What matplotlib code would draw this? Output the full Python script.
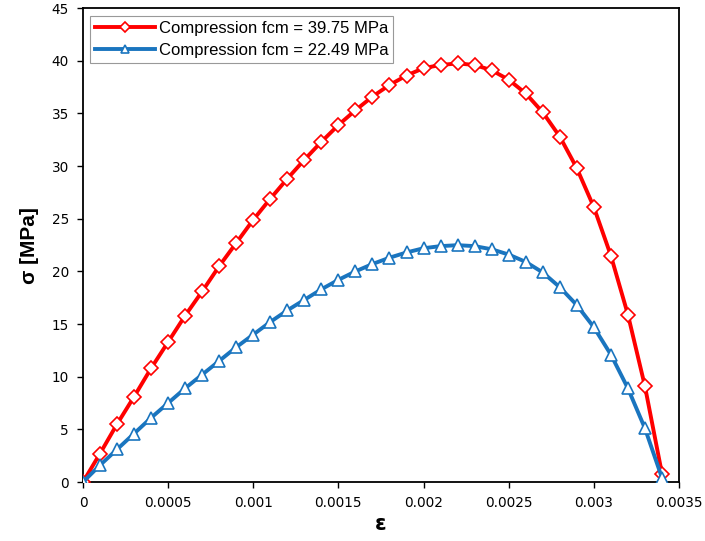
import matplotlib
matplotlib.use("Agg")
import matplotlib.pyplot as plt

strain = [i * 0.0001 for i in range(35)]

stress_high = [0.0, 2.7, 5.5, 8.1, 10.8, 13.3, 15.8, 18.1, 20.5, 22.7,
               24.9, 26.9, 28.8, 30.6, 32.3, 33.9, 35.3, 36.6, 37.7, 38.6,
               39.3, 39.6, 39.75, 39.6, 39.1, 38.2, 36.9, 35.1, 32.8, 29.8,
               26.1, 21.5, 15.9, 9.1, 0.8]

stress_low = [0.0, 1.6, 3.1, 4.6, 6.1, 7.5, 8.9, 10.2, 11.5, 12.8,
              14.0, 15.2, 16.3, 17.3, 18.3, 19.2, 20.0, 20.7, 21.3, 21.8,
              22.2, 22.4, 22.49, 22.4, 22.1, 21.6, 20.9, 19.9, 18.5, 16.8,
              14.7, 12.1, 8.9, 5.1, 0.4]

labels = ["Compression fcm = 39.75 MPa", "Compression fcm = 22.49 MPa"]
xticks = [0, 0.0005, 0.001, 0.0015, 0.002, 0.0025, 0.003, 0.0035]
xticklabels = ["0", "0.0005", "0.001", "0.0015", "0.002", "0.0025", "0.003", "0.0035"]
yticks = [0, 5, 10, 15, 20, 25, 30, 35, 40, 45]

plt.rcParams['font.family'] = ['DejaVu Sans']

fig = plt.figure(figsize=(7.05, 5.41), dpi=100)
ax = fig.add_axes([0.1177, 0.109, 0.8454, 0.876])

ax.plot(strain, stress_high, color='#FF0000', lw=2.8, marker='D', ms=6.8,
        mfc='white', mec='#FF0000', mew=1.2, label=labels[0], zorder=3)
ax.plot(strain, stress_low, color='#1A75BF', lw=2.8, marker='^', ms=9,
        mfc='white', mec='#1A75BF', mew=1.2, label=labels[1], zorder=3)

ax.set_xlim(0, 0.0035)
ax.set_ylim(0, 45)
ax.set_xticks(xticks)
ax.set_xticklabels(xticklabels)
ax.set_yticks(yticks)
ax.tick_params(direction='out', length=4, width=1, labelsize=9.8, colors='black')
ax.tick_params(axis='x', pad=6)
ax.tick_params(axis='y', pad=6)
for s in ax.spines.values():
    s.set_linewidth(1.3)
    s.set_color('black')

ax.set_xlabel('ε', fontsize=15, fontweight='bold', labelpad=3)
ax.set_ylabel('σ [MPa]', fontsize=15, fontweight='bold', labelpad=9,
              family=['Liberation Sans', 'DejaVu Sans'])

leg = ax.legend(loc='upper left', frameon=True, fancybox=False,
                prop={'family': 'Liberation Sans', 'size': 12},
                edgecolor='#808080', handlelength=3.6, borderaxespad=0.45,
                borderpad=0.3, labelspacing=0.45, handletextpad=0.2)
leg.get_frame().set_linewidth(0.8)
for h in leg.legend_handles:
    h.set_markersize(5.5)

fig.savefig('out.png', dpi=100)
